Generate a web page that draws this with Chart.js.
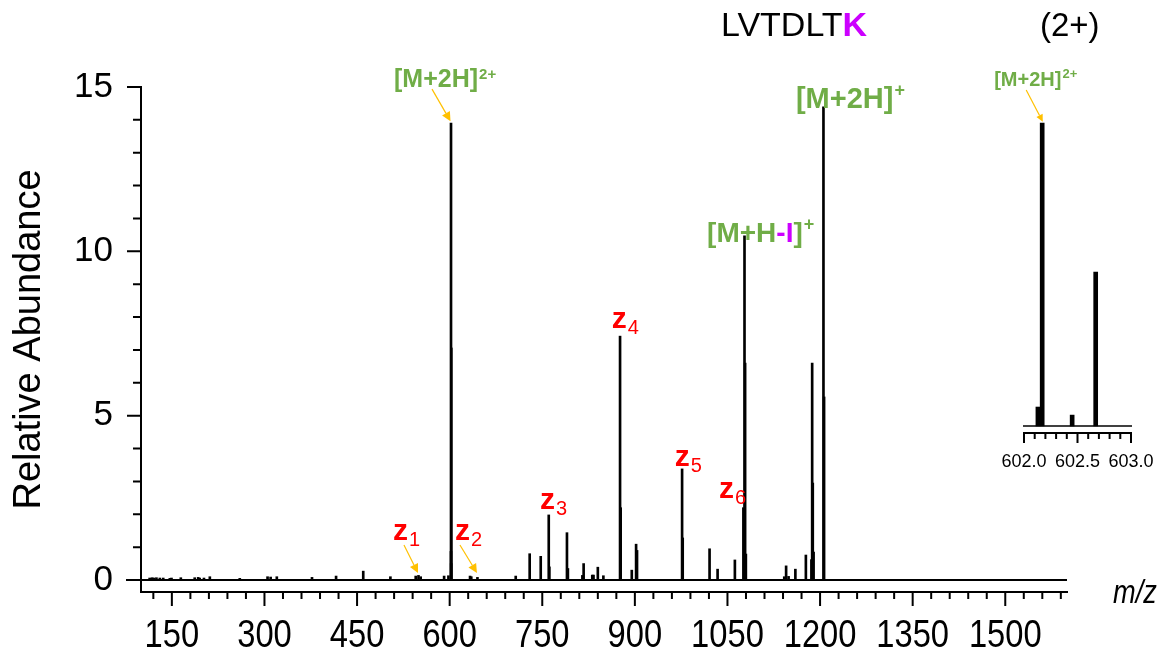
<!DOCTYPE html>
<html>
<head>
<meta charset="utf-8">
<script src="https://cdn.jsdelivr.net/npm/chart.js@4.4.1/dist/chart.umd.min.js"></script>
<style>
  html, body { margin: 0; padding: 0; background: #fff; }
  #wrap { position: relative; width: 1162px; height: 662px; overflow: hidden; }
  #spectrum { position: absolute; left: 0; top: 0; }
  #zoomPanel { position: absolute; left: 980px; top: 40px; }
</style>
</head>
<body>
<div id="wrap">
  <canvas id="spectrum" width="1162" height="662"></canvas>
  <canvas id="zoomPanel" width="192" height="430"></canvas>
</div>
<script>
// fragment peaks (m/z, relative abundance)
const mz = [114, 118, 121, 125, 130.5, 136, 146.7, 149.4, 164.5, 187, 192.6, 195, 202, 211.5,
  260, 305, 310, 320, 377, 416, 460, 504, 545, 549.5, 553, 591, 598, 633, 635, 645,
  707, 729.6, 747.5, 760.5, 761.5, 790, 791.5, 815, 817, 831, 833, 840, 849,
  876, 877, 895, 902, 903.5, 976.5, 977.5, 1021, 1034, 1062,
  1075.8, 1077.6, 1078.6, 1079.8, 1142, 1145, 1149, 1160, 1177,
  1186, 1187.2, 1188.2, 1189.5, 1205.5, 1206.5];
const abundance = [0.06, 0.07, 0.06, 0.07, 0.06, 0.06, 0.05, 0.06, 0.07, 0.07, 0.08, 0.06, 0.06, 0.1,
  0.05, 0.1, 0.09, 0.1, 0.08, 0.12, 0.27, 0.1, 0.12, 0.14, 0.1, 0.12, 0.13, 0.12, 0.1, 0.08,
  0.12, 0.8, 0.72, 1.98, 0.4, 1.44, 0.35, 0.14, 0.5, 0.15, 0.15, 0.39, 0.13,
  7.42, 2.2, 0.3, 1.09, 0.9, 3.38, 1.28, 0.95, 0.33, 0.61,
  2.2, 10.47, 6.6, 0.79, 0.1, 0.43, 0.11, 0.33, 0.76,
  0.62, 6.6, 2.95, 0.85, 14.4, 5.57];

// precursor isotope cluster, also shown enlarged
const insetMz = [602.13, 602.17, 602.45, 602.67];
const insetAbundance = [0.87, 13.9, 0.5, 7.06];

const xTickLabels = [150, 300, 450, 600, 750, 900, 1050, 1200, 1350, 1500];
const yTickLabels = [0, 5, 10, 15];
const insetTickLabels = [602.0, 602.5, 603.0];

// annotated ions
const zIonNumbers = ['1', '2', '3', '4', '5', '6'];
const zIonMz = [549.5, 645, 760.5, 876, 976.5, 1075.8];
const precursorMz = 602.17;      // [M+2H]2+
const reducedMz = 1205.5;        // [M+2H]+
const iodineLossMz = 1077.6;     // [M+H-I]+

const SANS = "'Liberation Sans', Arial, sans-serif";
const GREEN = '#70AD47';
const MAGENTA = '#CC00FF';
const RED = '#FF0000';
const ORANGE = '#FFC000';

const allMz = mz.concat(insetMz);
const allAbundance = abundance.concat(insetAbundance);

function valueAt(list, values, m) {
  return values[list.indexOf(m)];
}

function drawRuns(ctx, x, y, runs) {
  ctx.textAlign = 'left';
  ctx.textBaseline = 'alphabetic';
  runs.forEach(r => {
    ctx.font = r.font;
    ctx.fillStyle = r.color;
    ctx.fillText(r.text, x + (r.dx || 0), y + (r.dy || 0));
    x += ctx.measureText(r.text).width + (r.dx || 0);
  });
}

// condensed text: squeeze horizontally around the anchor
function drawNarrow(ctx, text, x, y, font, squeeze, align, baseline) {
  ctx.save();
  ctx.translate(x, y);
  ctx.scale(squeeze, 1);
  ctx.font = font;
  ctx.fillStyle = '#000';
  ctx.textAlign = align;
  ctx.textBaseline = baseline;
  ctx.fillText(text, 0, 0);
  ctx.restore();
}

function drawArrow(ctx, x1, y1, x2, y2, head) {
  const ang = Math.atan2(y2 - y1, x2 - x1);
  const bx = x2 - head * Math.cos(ang);
  const by = y2 - head * Math.sin(ang);
  ctx.strokeStyle = ORANGE;
  ctx.fillStyle = ORANGE;
  ctx.lineWidth = 1.2;
  ctx.beginPath();
  ctx.moveTo(x1, y1);
  ctx.lineTo(bx, by);
  ctx.stroke();
  ctx.beginPath();
  ctx.moveTo(x2, y2);
  ctx.lineTo(bx + head * 0.5 * Math.sin(ang), by - head * 0.5 * Math.cos(ang));
  ctx.lineTo(bx - head * 0.5 * Math.sin(ang), by + head * 0.5 * Math.cos(ang));
  ctx.closePath();
  ctx.fill();
}

// baseline and tick marks (major/minor lengths differ)
const spectrumFrame = {
  id: 'spectrumFrame',
  beforeDatasetsDraw(chart) {
    const {ctx, chartArea, scales: {x, y}} = chart;
    ctx.save();
    ctx.strokeStyle = '#000';
    ctx.lineWidth = 2;
    ctx.beginPath();
    const y0 = y.getPixelForValue(0);
    ctx.moveTo(chartArea.left - 15, y0);
    ctx.lineTo(chartArea.right, y0);
    for (let v = 1; v <= 15; v++) {
      const py = y.getPixelForValue(v);
      ctx.moveTo(chartArea.left - (v % 5 === 0 ? 14 : 8), py);
      ctx.lineTo(chartArea.left, py);
    }
    for (let v = 120; v <= 1590; v += 30) {
      const px = x.getPixelForValue(v);
      ctx.moveTo(px, chartArea.bottom);
      ctx.lineTo(px, chartArea.bottom + (v % 150 === 0 ? 14 : 7));
    }
    ctx.stroke();
    ctx.restore();

    // m/z tick labels, condensed
    x.ticks.forEach(t => {
      drawNarrow(ctx, String(t.value), x.getPixelForValue(t.value), chartArea.bottom + 45,
        `38px ${SANS}`, 0.86, 'center', 'middle');
    });
    drawNarrow(ctx, 'm/z', chartArea.right + 46, chartArea.bottom + 11,
      `italic 34px ${SANS}`, 0.8, 'left', 'alphabetic');
  },
  afterDatasetsDraw(chart) {
    const {ctx, scales: {x, y}} = chart;
    ctx.save();

    // peptide and charge state
    drawRuns(ctx, 721, 36, [
      {text: 'LVTDLT', font: `34px ${SANS}`, color: '#000'},
      {text: 'K', font: `bold 34px ${SANS}`, color: MAGENTA}
    ]);
    drawRuns(ctx, 1040, 36, [{text: '(2+)', font: `33px ${SANS}`, color: '#000'}]);

    // z ions
    const zOffsets = [[-25.5, -35.4], [-22.5, -37.4], [-8.7, -6], [-8.3, -8], [-7.3, -3], [-24.3, -9.7]];
    const zArrows = {0: [[-14.5, -30.4], [-0.5, -2.4]], 1: [[-17.5, -32.4], [-0.5, -4.4]]};
    zIonMz.forEach((m, i) => {
      const px = x.getPixelForValue(m);
      const py = y.getPixelForValue(valueAt(mz, abundance, m));
      drawRuns(ctx, px + zOffsets[i][0], py + zOffsets[i][1], [
        {text: 'z', font: `bold 30px ${SANS}`, color: RED},
        {text: zIonNumbers[i], font: `20px ${SANS}`, color: RED, dx: 1, dy: 6}
      ]);
      if (zArrows[i]) {
        const [tail, tip] = zArrows[i];
        drawArrow(ctx, px + tail[0], py + tail[1], px + tip[0], py + tip[1], 9);
      }
    });

    // precursor and charge-reduced species
    let px = x.getPixelForValue(precursorMz);
    let py = y.getPixelForValue(valueAt(insetMz, insetAbundance, precursorMz));
    drawRuns(ctx, px - 57, py - 36, [
      {text: '[M+2H]', font: `bold 25px ${SANS}`, color: GREEN},
      {text: '2+', font: `bold 15px ${SANS}`, color: GREEN, dx: 1, dy: -8}
    ]);
    drawArrow(ctx, px - 19, py - 34, px - 0.5, py - 2, 9);

    px = x.getPixelForValue(reducedMz);
    py = y.getPixelForValue(valueAt(mz, abundance, reducedMz));
    drawRuns(ctx, px - 27.5, py + 1, [
      {text: '[M+2H]', font: `bold 29px ${SANS}`, color: GREEN},
      {text: '+', font: `bold 18px ${SANS}`, color: GREEN, dx: 1, dy: -12}
    ]);

    px = x.getPixelForValue(iodineLossMz);
    py = y.getPixelForValue(valueAt(mz, abundance, iodineLossMz));
    drawRuns(ctx, px - 37.4, py + 6, [
      {text: '[M+H', font: `bold 28px ${SANS}`, color: GREEN},
      {text: '-I', font: `bold 28px ${SANS}`, color: MAGENTA},
      {text: ']', font: `bold 28px ${SANS}`, color: GREEN},
      {text: '+', font: `bold 18px ${SANS}`, color: GREEN, dx: 1, dy: -12}
    ]);

    ctx.restore();
  }
};

new Chart(document.getElementById('spectrum'), {
  type: 'bar',
  data: {
    datasets: [{
      data: allMz.map((m, i) => ({x: m, y: allAbundance[i]})),
      backgroundColor: '#000',
      barThickness: 2,
      grouped: false
    }]
  },
  options: {
    responsive: false,
    animation: false,
    devicePixelRatio: 1,
    layout: {padding: {left: 0, right: 95, top: 87, bottom: 0}},
    plugins: {legend: {display: false}, tooltip: {enabled: false}},
    scales: {
      x: {
        type: 'linear',
        min: 100,
        max: 1600,
        offset: false,
        afterBuildTicks: s => { s.ticks = xTickLabels.map(v => ({value: v})); },
        afterFit: s => { s.height = 70; },
        grid: {display: false, drawTicks: false, offset: false},
        border: {display: true, color: '#000', width: 2},
        ticks: {display: false, autoSkip: false}
      },
      y: {
        type: 'linear',
        min: -0.365,
        max: 15,
        afterBuildTicks: s => { s.ticks = yTickLabels.map(v => ({value: v})); },
        afterFit: s => { s.width = 141; },
        grid: {display: false, drawTicks: false},
        border: {display: true, color: '#000', width: 2},
        ticks: {
          color: '#000',
          padding: 28,
          autoSkip: false,
          font: {family: SANS, size: 35},
          callback: v => v
        },
        title: {
          display: true,
          text: 'Relative Abundance',
          color: '#000',
          font: {family: SANS, size: 38},
          padding: {top: 7, bottom: 0}
        }
      }
    }
  },
  plugins: [spectrumFrame]
});

// enlarged precursor cluster
const zoomFrame = {
  id: 'zoomFrame',
  beforeDatasetsDraw(chart) {
    const {ctx, chartArea, scales: {x, y}} = chart;
    ctx.save();
    ctx.strokeStyle = '#000';
    ctx.lineWidth = 1.5;
    ctx.beginPath();
    const y0 = y.getPixelForValue(0);
    ctx.moveTo(chartArea.left - 1, y0);
    ctx.lineTo(chartArea.right + 1, y0);
    ctx.stroke();
    ctx.lineWidth = 2;
    ctx.beginPath();
    for (let i = 0; i <= 10; i++) {
      const px = x.getPixelForValue(602 + i / 10);
      ctx.moveTo(px, chartArea.bottom);
      ctx.lineTo(px, chartArea.bottom + (i % 5 === 0 ? 10 : 6));
    }
    ctx.stroke();
    ctx.restore();
  },
  afterDatasetsDraw(chart) {
    const {ctx, scales: {x, y}} = chart;
    ctx.save();
    const px = x.getPixelForValue(precursorMz);
    const py = y.getPixelForValue(valueAt(insetMz, insetAbundance, precursorMz));
    drawRuns(ctx, px - 48, py - 37, [
      {text: '[M+2H]', font: `bold 20px ${SANS}`, color: GREEN},
      {text: '2+', font: `bold 13px ${SANS}`, color: GREEN, dx: 1, dy: -8}
    ]);
    drawArrow(ctx, px - 16, py - 33, px + 0.6, py - 1.3, 7);
    ctx.restore();
  }
};

new Chart(document.getElementById('zoomPanel'), {
  type: 'bar',
  data: {
    datasets: [{
      data: insetMz.map((m, i) => ({x: m, y: insetAbundance[i]})),
      backgroundColor: '#000',
      barThickness: 4,
      grouped: false
    }]
  },
  options: {
    responsive: false,
    animation: false,
    devicePixelRatio: 1,
    // right padding covers the last tick label plus its padding
    layout: {padding: {left: 44, right: 41, top: 59, bottom: 0}},
    plugins: {legend: {display: false}, tooltip: {enabled: false}},
    scales: {
      x: {
        type: 'linear',
        min: 602,
        max: 603,
        offset: false,
        afterBuildTicks: s => { s.ticks = insetTickLabels.map(v => ({value: v})); },
        afterFit: s => { s.height = 37; },
        grid: {display: false, drawTicks: false, offset: false},
        border: {display: true, color: '#000', width: 2},
        ticks: {
          color: '#000',
          padding: 18,
          maxRotation: 0,
          autoSkip: false,
          font: {family: SANS, size: 18},
          callback: v => Number(v).toFixed(1)
        }
      },
      y: {
        type: 'linear',
        display: false,
        min: -0.321,
        max: 15
      }
    }
  },
  plugins: [zoomFrame]
});
</script>
</body>
</html>
